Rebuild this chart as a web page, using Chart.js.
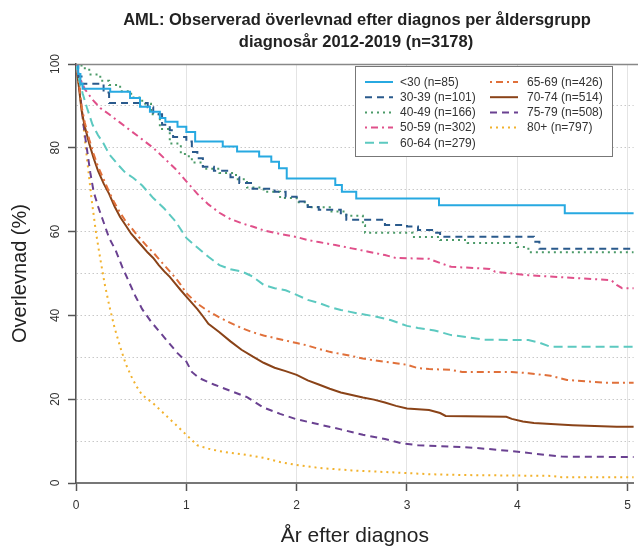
<!DOCTYPE html>
<html><head><meta charset="utf-8">
<script src="https://cdn.jsdelivr.net/npm/chart.js@4/dist/chart.umd.min.js"></script>
<style>html,body{margin:0;padding:0;background:#fff}#wrap{width:638px;height:550px;position:relative}</style>
</head><body><div id="wrap"><canvas id="c" width="638" height="550"></canvas></div>
<script>
// ---------- texts ----------
const titleLines = ['AML: Observerad överlevnad efter diagnos per åldersgrupp', 'diagnosår 2012-2019 (n=3178)'];
const xTitle = 'År efter diagnos';
const yTitle = 'Overlevnad (%)';
const seriesLabels = ['<30 (n=85)', '30-39 (n=101)', '40-49 (n=166)', '50-59 (n=302)', '60-64 (n=279)', '65-69 (n=426)', '70-74 (n=514)', '75-79 (n=508)', '80+ (n=797)'];
const xTicks = [0, 1, 2, 3, 4, 5];
const yTicks = [0, 20, 40, 60, 80, 100];

// ---------- series (time in years, survival %) ----------
const t_u30 = [0, 0.02, 0.04, 0.06, 0.31, 0.49, 0.58, 0.67, 0.76, 0.81, 0.92, 1.0, 1.08, 1.33, 1.46, 1.66, 1.77, 1.84, 1.91, 2.35, 2.41, 2.54, 3.29, 4.43, 5.06];
const v_u30 = [100, 97.6, 95.3, 94.1, 93.4, 91.9, 89.8, 88.6, 87.1, 86.2, 85.0, 83.8, 81.5, 80.3, 79.1, 77.9, 76.7, 75.1, 72.7, 71.1, 69.5, 67.9, 66.3, 64.4, 64.4];

const t_30 = [0, 0.02, 0.05, 0.25, 0.3, 0.65, 0.7, 0.78, 0.85, 0.88, 1.0, 1.05, 1.1, 1.15, 1.25, 1.4, 1.48, 1.6, 1.8, 1.9, 2.0, 2.1, 2.2, 2.4, 2.45, 2.8, 3.0, 3.1, 3.25, 3.3, 4.15, 4.2, 5.06];
const v_30 = [100, 97, 95.3, 93.2, 90.7, 89.7, 88, 85.5, 84.2, 82.6, 81.5, 79, 77.5, 75.5, 74.5, 73, 71.6, 70.2, 69.5, 68.3, 67.2, 65.9, 65.2, 64.4, 62.8, 61.6, 61.2, 60.4, 59.7, 58.8, 57.6, 55.9, 55.9];

const t_40 = [0, 0.05, 0.12, 0.22, 0.3, 0.4, 0.5, 0.6, 0.68, 0.76, 0.85, 0.95, 1.0, 1.05, 1.15, 1.3, 1.45, 1.55, 1.7, 1.85, 2.0, 2.1, 2.3, 2.45, 2.6, 2.62, 3.05, 3.3, 3.55, 4.0, 4.1, 5.06];
const v_40 = [100, 99, 97.5, 96, 95, 93.5, 92, 90.5, 88, 84.5, 81, 78.5, 78, 76.5, 75, 74, 72.5, 70.5, 69.5, 68, 67, 65.8, 64.8, 63.8, 61.5, 59.7, 58.7, 58, 57.3, 56.3, 55.1, 55.1];

const t_50 = [0, 0.03, 0.08, 0.15, 0.22, 0.3, 0.4, 0.5, 0.6, 0.7, 0.8, 0.9, 1.0, 1.1, 1.2, 1.3, 1.4, 1.5, 1.6, 1.7, 1.8, 1.9, 2.0, 2.1, 2.2, 2.35, 2.5, 2.65, 2.8, 2.9, 3.2, 3.3, 3.4, 3.75, 3.8, 4.1, 4.85, 4.9, 4.95, 5.06];
const v_50 = [100, 97, 94, 91.5, 89.5, 88, 86, 84, 82, 80, 77.5, 75, 72, 69, 66.5, 64.5, 63, 62, 61.2, 60.3, 59.7, 59.2, 58.7, 58, 57.5, 56.8, 56, 55.2, 54.4, 53.7, 53.5, 52.5, 51.6, 51.1, 50.4, 49.6, 48.4, 47.3, 46.5, 46.5];

const t_60 = [0, 0.03, 0.06, 0.1, 0.15, 0.2, 0.25, 0.3, 0.38, 0.45, 0.52, 0.6, 0.7, 0.8, 0.9, 1.0, 1.1, 1.2, 1.3, 1.4, 1.5, 1.6, 1.7, 1.8, 1.9, 2.0, 2.1, 2.2, 2.3, 2.4, 2.55, 2.7, 2.85, 3.0, 3.1, 3.25, 3.4, 3.55, 3.7, 4.1, 4.2, 4.3, 5.06];
const v_60 = [100, 96, 93, 89.5, 85.5, 83, 81, 78.5, 76, 74, 72.8, 71, 68, 65.5, 62.5, 58.5, 56.2, 54, 52, 51, 50.5, 49.3, 47.3, 46.5, 46, 44.9, 43.7, 43, 42, 41.3, 40.5, 39.8, 38.9, 37.5, 37, 36.4, 35.3, 34.8, 34.2, 34.1, 33.5, 32.5, 32.5];

const t_65 = [0, 0.02, 0.05, 0.08, 0.12, 0.16, 0.2, 0.25, 0.3, 0.35, 0.4, 0.45, 0.5, 0.55, 0.6, 0.65, 0.7, 0.75, 0.8, 0.85, 0.9, 0.95, 1.0, 1.1, 1.2, 1.3, 1.4, 1.5, 1.6, 1.7, 1.8, 1.9, 2.0, 2.1, 2.2, 2.3, 2.4, 2.5, 2.6, 2.7, 2.8, 2.9, 3.0, 3.1, 3.2, 3.4, 3.5, 3.95, 4.1, 4.3, 4.45, 4.7, 4.8, 5.06];
const v_65 = [100, 97, 90, 86, 82, 78.5, 75.5, 72.5, 69.5, 66.8, 64.5, 62.5, 61, 59.3, 57.8, 56.3, 55, 53.5, 52, 50.5, 49, 47.3, 45.3, 42.8, 41, 39.5, 38.2, 37, 36, 35.2, 34.6, 34, 33.4, 32.8, 32, 31.3, 30.8, 30.3, 29.7, 29.3, 28.9, 28.6, 28.2, 27.4, 27.2, 27, 26.5, 26.5, 26.2, 25.6, 24.6, 24.1, 23.9, 23.9];

const t_70 = [0, 0.02, 0.05, 0.08, 0.12, 0.16, 0.2, 0.25, 0.3, 0.35, 0.4, 0.45, 0.5, 0.55, 0.6, 0.65, 0.7, 0.75, 0.8, 0.85, 0.9, 0.95, 1.0, 1.05, 1.1, 1.15, 1.2, 1.25, 1.3, 1.4, 1.5, 1.6, 1.7, 1.8, 1.9, 2.0, 2.1, 2.2, 2.3, 2.4, 2.5, 2.6, 2.7, 2.8, 2.9, 3.0, 3.2, 3.3, 3.35, 3.9, 3.95, 4.05, 4.15, 4.5, 4.9, 5.06];
const v_70 = [100, 96, 89, 85, 81, 77.5, 74.5, 71.5, 69, 66, 63.5, 61.5, 59.5, 58, 56.5, 55, 53.7, 52, 50.5, 49.2, 47.6, 46, 44.5, 43, 41.5, 39.8, 38, 37, 36, 33.8, 31.8, 30.2, 28.7, 27.5, 26.7, 25.8, 24.5, 23.5, 22.5, 21.6, 21, 20.4, 19.9, 19.2, 18.4, 17.8, 17.4, 16.7, 16, 15.8, 15.3, 14.7, 14.3, 13.8, 13.4, 13.4];

const t_75 = [0, 0.02, 0.045, 0.07, 0.1, 0.13, 0.16, 0.2, 0.24, 0.3, 0.36, 0.42, 0.48, 0.54, 0.6, 0.68, 0.76, 0.84, 0.92, 1.0, 1.05, 1.12, 1.25, 1.4, 1.55, 1.7, 1.85, 2.0, 2.2, 2.4, 2.6, 2.8, 2.95, 3.1, 3.5, 3.7, 3.95, 4.4, 5.06];
const v_75 = [100, 97, 91, 85, 79.5, 74, 69.5, 66, 63, 58.5, 55.5, 51.5, 48, 44.5, 41.5, 38.5, 36, 33.5, 31, 29, 26.5, 25, 23.5, 22, 20.5, 18, 16.5, 15.2, 14, 12.8, 11.5, 10.5, 9.5, 9, 8.6, 8.2, 7.6, 6.3, 6.2];

const t_80 = [0, 0.02, 0.05, 0.08, 0.11, 0.14, 0.18, 0.22, 0.26, 0.3, 0.35, 0.4, 0.45, 0.5, 0.55, 0.6, 0.7, 0.8, 0.9, 1.0, 1.1, 1.2, 1.3, 1.4, 1.5, 1.7, 1.85, 2.0, 2.2, 2.5, 2.9, 3.2, 3.5, 4.3, 4.4, 5.06];
const v_80 = [100, 96, 90, 82, 75, 68, 60, 53.5, 47.5, 42.5, 37, 32.5, 28.5, 25.5, 23, 21, 19, 16.5, 14, 11.5, 9, 8.2, 7.6, 7.2, 6.9, 6, 5, 4.3, 3.6, 3, 2.5, 2.1, 1.9, 1.7, 1.4, 1.4];

const seriesT = [t_u30, t_30, t_40, t_50, t_60, t_65, t_70, t_75, t_80];
const seriesV = [v_u30, v_30, v_40, v_50, v_60, v_65, v_70, v_75, v_80];

// ---------- styles ----------
const colors = ['#27a9e1', '#2a5a8c', '#4b9a68', '#e0508a', '#5cc9c0', '#e0703a', '#8a4318', '#6a4191', '#f2b22d'];
const dashes = [[], [7, 5], [2, 4], [2, 4, 7, 4], [9, 5], [2, 4, 7, 4], [], [7, 5], [2, 4]];
const stepped = [true, true, true, false, false, false, false, false, false];

const datasets = seriesLabels.map((lab, i) => ({
  label: lab,
  data: seriesT[i].map((t, k) => ({x: t, y: seriesV[i][k]})),
  borderColor: colors[i],
  borderWidth: 2,
  borderDash: dashes[i],
  stepped: stepped[i],
  pointRadius: 0,
  fill: false,
  tension: 0
}));

const FONT = '"Liberation Sans", Arial, sans-serif';
const PLOT_LEFT = 76, PLOT_TOP = 64, PLOT_BOTTOM = 483;
const X_MAX = 5 * (638 - 76) / (632 - 76);

const decor = {
  id: 'decor',
  afterDraw(chart) {
    const ctx = chart.ctx;
    const ca = chart.chartArea;
    ctx.save();
    // title
    ctx.fillStyle = '#222';
    ctx.font = 'bold 16.5px ' + FONT;
    ctx.textAlign = 'center';
    ctx.textBaseline = 'middle';
    ctx.fillText(titleLines[0], 357, 20);
    ctx.fillText(titleLines[1], 356, 42);
    // top frame line
    ctx.strokeStyle = '#888';
    ctx.lineWidth = 1.5;
    ctx.beginPath();
    ctx.moveTo(ca.left, ca.top + 0.5);
    ctx.lineTo(638, ca.top + 0.5);
    ctx.stroke();
    // y tick labels (rotated)
    const ys = chart.scales.y;
    ctx.fillStyle = '#333';
    ctx.font = '12px ' + FONT;
    ctx.textAlign = 'center';
    ctx.textBaseline = 'alphabetic';
    yTicks.forEach(v => {
      const py = ys.getPixelForValue(v);
      ctx.save();
      ctx.translate(59, py);
      ctx.rotate(-Math.PI / 2);
      ctx.fillText(String(v), 0, 0);
      ctx.restore();
    });
    // legend
    const bx = 355, by = 66, bw = 257, bh = 90;
    ctx.fillStyle = '#fff';
    ctx.fillRect(bx, by, bw, bh);
    ctx.strokeStyle = '#777';
    ctx.lineWidth = 1;
    ctx.strokeRect(bx + 0.5, by + 0.5, bw, bh);
    ctx.font = '12px ' + FONT;
    ctx.textAlign = 'left';
    ctx.textBaseline = 'middle';
    chart.data.datasets.forEach((ds, i) => {
      const col = i < 5 ? 0 : 1;
      const row = i < 5 ? i : i - 5;
      const lx = col === 0 ? 365 : 490;
      const tx = col === 0 ? 400 : 527;
      const ly = 82 + row * 15.2;
      ctx.save();
      ctx.strokeStyle = ds.borderColor;
      ctx.lineWidth = ds.borderWidth;
      ctx.setLineDash(ds.borderDash);
      ctx.beginPath();
      ctx.moveTo(lx, ly);
      ctx.lineTo(lx + 28, ly);
      ctx.stroke();
      ctx.restore();
      ctx.fillStyle = '#333';
      ctx.fillText(ds.label, tx, ly + 0.5);
    });
    ctx.restore();
  }
};

new Chart(document.getElementById('c'), {
  type: 'line',
  data: {datasets},
  options: {
    responsive: false,
    animation: false,
    devicePixelRatio: 1,
    layout: {padding: {top: PLOT_TOP, right: 0, left: 0, bottom: 0}},
    plugins: {legend: {display: false}, title: {display: false}, tooltip: {enabled: false}},
    scales: {
      x: {
        type: 'linear', min: 0, max: X_MAX,
        afterFit: s => { s.height = 550 - PLOT_BOTTOM; },
        afterBuildTicks: s => { s.ticks = xTicks.map(v => ({value: v})); },
        ticks: {stepSize: 1, includeBounds: false, color: '#333', font: {size: 12, family: FONT}, padding: 7, maxRotation: 0},
        grid: {color: '#e4e4e4', lineWidth: 1, tickLength: 8, tickColor: '#555', tickWidth: 1.5},
        border: {display: true, color: '#777', width: 2},
        title: {display: true, text: xTitle, color: '#222', font: {size: 21, family: FONT}, padding: {top: 0, bottom: 1}}
      },
      y: {
        type: 'linear', min: 0, max: 100,
        afterFit: s => { s.width = PLOT_LEFT; },
        ticks: {stepSize: 10, display: false},
        grid: {color: '#c8c8c8', lineWidth: 1, tickLength: 8, tickWidth: 1.5,
               tickColor: c => (c.tick && c.tick.value % 20 === 0) ? '#555' : 'rgba(0,0,0,0)'},
        border: {display: true, color: '#555', width: 1.5, dash: [1.5, 2.5]},
        title: {display: true, text: yTitle, color: '#222', font: {size: 20, family: FONT}, padding: {top: 8, bottom: 0}}
      }
    }
  },
  plugins: [decor]
});
</script>
</body></html>
